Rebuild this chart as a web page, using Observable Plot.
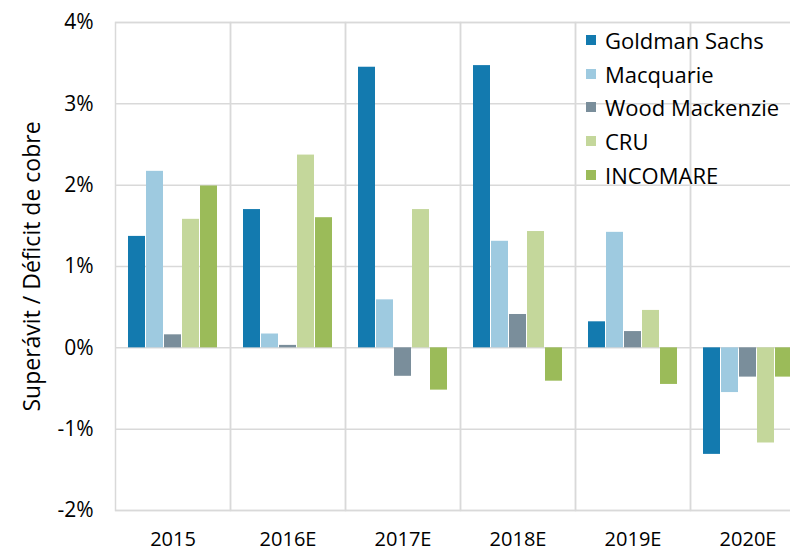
<!DOCTYPE html>
<html>
<head>
<meta charset="utf-8">
<script src="https://cdn.jsdelivr.net/npm/d3@7"></script>
<script src="https://cdn.jsdelivr.net/npm/@observablehq/plot@0.6"></script>
<style>
  html, body { margin: 0; padding: 0; background: #fff; overflow: hidden; width: 790px; height: 551px; }
  #wrap { position: relative; width: 790px; height: 551px; overflow: hidden; }
  #wrap svg { max-width: none !important; display: block; }
  #legend { position: absolute; left: 586px; top: 23px; font-family: "Open Sans", sans-serif; font-size: 22px; color: #000; }
  #legend .row { display: flex; align-items: center; height: 33.8px; white-space: nowrap; }
  #legend .sw { width: 10px; height: 10px; margin-right: 9px; flex: none; }
</style>
</head>
<body>
<div id="wrap"><div id="legend"></div></div>
<script>
const years = ["2015", "2016E", "2017E", "2018E", "2019E", "2020E"];
const series = ["Goldman Sachs", "Macquarie", "Wood Mackenzie", "CRU", "INCOMARE"];
const colors = ["#137aaf", "#9ecae0", "#7a8e9b", "#c4d79b", "#9bbb59"];
const goldman = [1.37, 1.70, 3.45, 3.47, 0.32, -1.31];
const macquarie = [2.17, 0.17, 0.59, 1.31, 1.42, -0.55];
const woodMackenzie = [0.16, 0.03, -0.35, 0.41, 0.20, -0.36];
const cru = [1.58, 2.37, 1.70, 1.43, 0.46, -1.17];
const incomare = [1.99, 1.60, -0.52, -0.41, -0.45, -0.36];
const yTicks = [-2, -1, 0, 1, 2, 3, 4];
const yLabel = "Superávit / Déficit de cobre";

const seriesValues = [goldman, macquarie, woodMackenzie, cru, incomare];
const data = [];
years.forEach((yr, i) => {
  series.forEach((s, j) => data.push({year: yr, series: s, value: seriesValues[j][i]}));
});

const chart = Plot.plot({
  width: 805,
  height: 551,
  marginTop: 22,
  marginBottom: 41,
  marginLeft: 115,
  marginRight: 0,
  style: {fontFamily: "Open Sans, sans-serif", fontSize: "20px", color: "#000", background: "transparent", maxWidth: "none"},
  fx: {domain: years, padding: 0, label: null, tickSize: 0, tickPadding: 21},
  x: {domain: series, axis: null, paddingInner: 0.08, paddingOuter: 0.68},
  y: {domain: [-2, 4]},
  color: {domain: series, range: colors},
  marks: [
    Plot.ruleY(yTicks, {stroke: "#d9d9d9", strokeWidth: 1.5}),
    Plot.frame({stroke: "#d9d9d9", strokeWidth: 1.5}),
    Plot.barY(data, {fx: "year", x: "series", y: "value", fill: "series"}),
    Plot.axisY({ticks: yTicks, tickFormat: d => d + "%", tickSize: 0, tickPadding: 22, label: null, fontSize: 21}),
    Plot.axisY({ticks: [], tickSize: 0, label: yLabel, labelAnchor: "center", labelOffset: 92, labelArrow: "none", fontSize: 23})
  ]
});
chart.style.maxWidth = "none";
document.getElementById("wrap").prepend(chart);

const legend = document.getElementById("legend");
series.forEach((s, i) => {
  const row = document.createElement("div");
  row.className = "row";
  const sw = document.createElement("span");
  sw.className = "sw";
  sw.style.background = colors[i];
  const tx = document.createElement("span");
  tx.textContent = s;
  row.appendChild(sw);
  row.appendChild(tx);
  legend.appendChild(row);
});
</script>
</body>
</html>
